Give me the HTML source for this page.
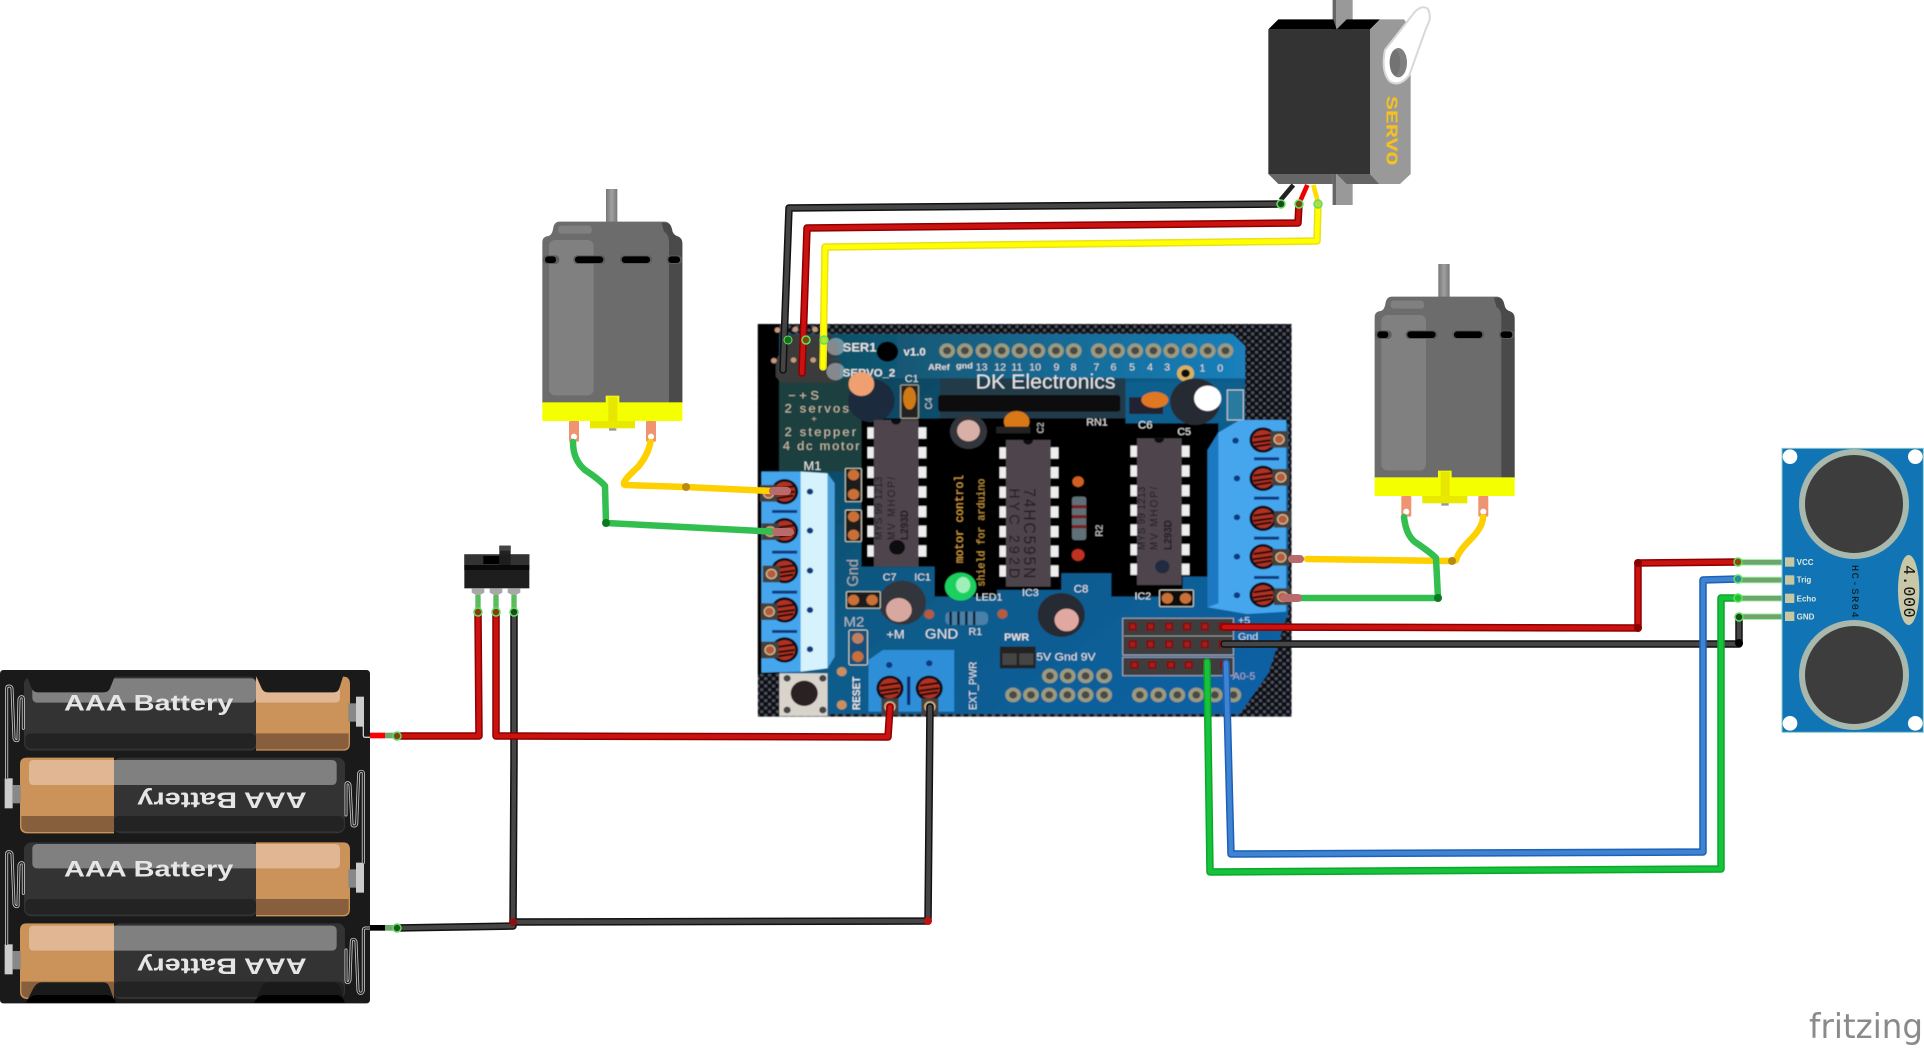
<!DOCTYPE html>
<html><head><meta charset="utf-8"><style>html,body{margin:0;padding:0;background:#fff}svg{display:block}text{font-family:"Liberation Sans",sans-serif}</style></head><body>
<svg xmlns="http://www.w3.org/2000/svg" width="1924" height="1050" viewBox="0 0 1924 1050">
<defs>
<pattern id="dots" width="22" height="22" patternUnits="userSpaceOnUse"><rect width="22" height="22" fill="#0c0c10"/><circle cx="6" cy="6" r="5" fill="#4a5060"/><circle cx="17" cy="17" r="5" fill="#4a5060"/></pattern>
<pattern id="pin" width="40" height="59" patternUnits="userSpaceOnUse"><rect y="12" width="40" height="34" fill="#eee"/></pattern>
<linearGradient id="pcb" x1="0" y1="0" x2="1" y2="1"><stop offset="0" stop-color="#123c48"/><stop offset=".45" stop-color="#0e5a86"/><stop offset="1" stop-color="#0d62a8"/></linearGradient>
<linearGradient id="top" x1="0" y1="0" x2="1" y2="0"><stop offset="0" stop-color="#0f4a5c"/><stop offset="1" stop-color="#1a80bb"/></linearGradient>
<linearGradient id="shaft" x1="0" y1="0" x2="1" y2="0"><stop offset="0" stop-color="#777"/><stop offset=".5" stop-color="#a0a0a0"/><stop offset="1" stop-color="#777"/></linearGradient>
<filter id="bl" x="-2%" y="-2%" width="104%" height="104%"><feGaussianBlur stdDeviation="1.4"/></filter>
<g id="ic"><rect x="-18" y="0" width="18" height="420" fill="url(#pin)"/><rect x="125" y="0" width="22" height="420" fill="url(#pin)"/><rect x="0" y="-10" width="125" height="440" fill="#4d444c"/><path d="M48-10a14 14 0 0 0 28 0z" fill="#111"/></g>
<g id="screw"><circle r="38" fill="#0a0a18"/><circle r="30" fill="#b03020"/><path d="M-26-8 26-16M-28 8 28 0M-24 20 24 12" stroke="#1a0a0a" stroke-width="6"/></g>
<g id="pd"><rect x="-24" y="-25" width="48" height="50" fill="#45413d"/><circle r="14" fill="#b85a3c" stroke="#c9b98f" stroke-width="4"/></g>
<g id="hp"><circle r="22" fill="#9a9a80"/><circle r="11" fill="#4a4a44"/></g>
<g id="hs"><rect x="-12" y="-12" width="24" height="24" fill="#7a1010"/><rect x="-7" y="-7" width="14" height="14" fill="#aa1a1a"/></g>
<g id="motor">
<rect x="258" y="27" width="34" height="100" fill="url(#shaft)"/>
<path d="M67 670V187Q67 170 85 168Q97 165 100 142Q104 125 118 125H435Q452 127 456 148Q458 165 475 170Q487 175 487 190V670Z" fill="#6c6c6c"/>
<path d="M425 128H437Q452 130 456 148Q458 165 475 170Q487 175 487 190V670H447V185Q447 165 432 155Z" fill="#4a4a4a"/>
<rect x="87" y="180" width="134" height="466" rx="18" fill="#808080"/>
<rect x="115" y="137" width="100" height="24" rx="9" fill="#808080"/>
<g fill="#5c5c5c"><rect x="68" y="226" width="50" height="26" rx="12"/><rect x="160" y="226" width="96" height="26" rx="12"/><rect x="300" y="226" width="96" height="26" rx="12"/><rect x="440" y="226" width="47" height="26" rx="12"/></g>
<g fill="#000"><rect x="75" y="229" width="33" height="20" rx="9"/><rect x="165" y="229" width="85" height="20" rx="10"/><rect x="305" y="229" width="85" height="20" rx="10"/><rect x="445" y="229" width="35" height="20" rx="9"/></g>
<rect x="147" y="723" width="30" height="62" rx="3" fill="#ee9470"/><circle cx="162" cy="770" r="9" fill="#fff"/>
<rect x="378" y="723" width="30" height="62" rx="3" fill="#ee9470"/><circle cx="393" cy="770" r="9" fill="#fff"/>
<rect x="267" y="742" width="22" height="10" fill="#999"/>
<rect x="210" y="723" width="135" height="22" fill="#e8e800"/>
<rect x="67" y="667" width="420" height="56" fill="#f4ff00"/>
<rect x="257" y="647" width="41" height="22" fill="#f4ff00"/>
<rect x="265" y="650" width="27" height="73" fill="#e6e600"/>
</g>
</defs>

<!-- SHIELD -->
<g transform="translate(740,310) scale(.357,.3333)" filter="url(#bl)">
<rect x="50" y="42" width="1495" height="1178" fill="url(#dots)"/>
<rect x="50" y="42" width="60" height="1050" fill="#040404"/>
<path d="M110 72H1380L1415 108V340H1535V910L1480 1090L1400 1212H250L110 1090Z" fill="url(#pcb)"/>
<path d="M110 72H1380L1415 108V205H110Z" fill="url(#top)"/>
<rect x="110" y="205" width="250" height="280" fill="#1d4040"/>
<rect x="560" y="205" width="520" height="130" fill="#203a48"/>
<path d="M340 325H1340V800H1240V860H1040V790H900V840H720V860H545V770H340Z" fill="#040404"/>
<rect x="1080" y="215" width="330" height="125" fill="#0f5f8d"/>
<!-- top headers -->
<g><use href="#hp" x="580" y="122"/><use href="#hp" x="630" y="122"/><use href="#hp" x="682" y="122"/><use href="#hp" x="733" y="122"/><use href="#hp" x="783" y="122"/><use href="#hp" x="833" y="122"/><use href="#hp" x="885" y="122"/><use href="#hp" x="935" y="122"/><use href="#hp" x="1005" y="122"/><use href="#hp" x="1056" y="122"/><use href="#hp" x="1107" y="122"/><use href="#hp" x="1158" y="122"/><use href="#hp" x="1208" y="122"/><use href="#hp" x="1259" y="122"/><use href="#hp" x="1310" y="122"/><use href="#hp" x="1360" y="122"/></g>
<g><use href="#hp" x="765" y="1155"/><use href="#hp" x="815" y="1155"/><use href="#hp" x="866" y="1155"/><use href="#hp" x="917" y="1155"/><use href="#hp" x="968" y="1155"/><use href="#hp" x="1020" y="1155"/><use href="#hp" x="1120" y="1155"/><use href="#hp" x="1172" y="1155"/><use href="#hp" x="1225" y="1155"/><use href="#hp" x="1278" y="1155"/><use href="#hp" x="1330" y="1155"/><use href="#hp" x="1382" y="1155"/></g>
<g><use href="#hp" x="868" y="1098"/><use href="#hp" x="918" y="1098"/><use href="#hp" x="968" y="1098"/><use href="#hp" x="1020" y="1098"/></g>
<circle cx="413" cy="125" r="30" fill="#050505"/>
<circle cx="1248" cy="190" r="24" fill="#d8b060"/><circle cx="1248" cy="190" r="12" fill="#111"/>
<!-- labels -->
<g fill="#e4e4e4" font-size="36" font-weight="bold">
<text x="288" y="125">SER1</text><text x="458" y="136" font-size="32">v1.0</text><text x="288" y="200" font-size="32">SERVO_2</text>
<text x="660" y="235" font-size="60" textLength="392" lengthAdjust="spacingAndGlyphs" font-weight="normal">DK Electronics</text>
<g font-size="30" font-weight="normal" fill="#ddd"><text x="527" y="180" font-weight="bold" font-size="26">ARef</text><text x="605" y="176" font-weight="bold" font-size="26">gnd</text><text x="660" y="182">13</text><text x="712" y="182">12</text><text x="760" y="182">11</text><text x="810" y="182">10</text><text x="878" y="182">9</text><text x="926" y="182">8</text><text x="990" y="182">7</text><text x="1038" y="182">6</text><text x="1090" y="182">5</text><text x="1140" y="182">4</text><text x="1188" y="182">3</text><text x="1287" y="184">1</text><text x="1337" y="184">0</text></g>
<g font-weight="normal" font-size="36" fill="#cdbfa8" style="font-family:'Liberation Mono',monospace"><text x="135" y="268">− + S</text><text x="125" y="308" textLength="180">2 servos</text><text x="200" y="335" font-size="26">+</text><text x="125" y="378" textLength="200">2 stepper</text><text x="120" y="420" textLength="215">4 dc motor</text></g>
<g font-weight="normal"><text x="178" y="480">M1</text><text x="290" y="950" font-size="42" fill="#b0b8c0">M2</text><text x="400" y="812" font-size="30">C7</text><text x="488" y="812" font-size="30">IC1</text><text x="660" y="872" font-size="30">LED1</text><text x="410" y="985">+M</text><text x="518" y="985" font-size="42">GND</text><text x="640" y="975" font-size="30">R1</text><text x="790" y="858" font-size="30">IC3</text><text x="935" y="848" font-size="32">C8</text><text x="1105" y="868" font-size="30">IC2</text><text x="1115" y="356" font-size="32">C6</text><text x="1225" y="375" font-size="30">C5</text><text x="970" y="346" font-size="30">RN1</text><text x="462" y="216" font-size="30">C1</text><text x="740" y="992" font-size="30" font-weight="bold">PWR</text><text x="830" y="1052" font-size="34">5V Gnd 9V</text><text x="1380" y="1108" font-size="30" fill="#aac">A0-5</text><text x="1395" y="942" font-size="30" fill="#cde">+5</text><text x="1395" y="990" font-size="30" fill="#cde">Gnd</text></g>
<text transform="translate(330,830) rotate(-90)" font-size="44" font-weight="normal" fill="#aaa">Gnd</text>
<text transform="translate(336,1200) rotate(-90)" font-size="30">RESET</text>
<text transform="translate(662,1200) rotate(-90)" font-size="30" font-weight="normal">EXT_PWR</text>
<text transform="translate(624,760) rotate(-90)" font-size="34" fill="#d8a040" font-weight="normal" style="font-family:'Liberation Mono',monospace">motor control</text>
<text transform="translate(685,830) rotate(-90)" font-size="30" fill="#c89840" font-weight="normal" style="font-family:'Liberation Mono',monospace">shield for arduino</text>
<text transform="translate(1015,680) rotate(-90)" font-size="28" fill="#ccc" font-weight="normal">R2</text>
<text transform="translate(850,370) rotate(-90)" font-size="26" fill="#ccc" font-weight="normal">C2</text>
<text transform="translate(538,298) rotate(-90)" font-size="28" fill="#ccc" font-weight="normal">C4</text>
</g>
<!-- parts -->
<rect x="555" y="255" width="510" height="50" rx="8" fill="#111"/>
<rect x="450" y="225" width="50" height="100" rx="4" fill="#222" stroke="#998" stroke-width="4"/><ellipse cx="475" cy="265" rx="18" ry="34" fill="#d07a18"/>
<circle cx="368" cy="272" r="65" fill="#1a2a3c"/><circle cx="340" cy="222" r="36" fill="#f0a070"/>
<circle cx="640" cy="365" r="52" fill="#30343a"/><circle cx="640" cy="362" r="32" fill="#d8b0a8"/>
<ellipse cx="775" cy="335" rx="36" ry="32" fill="#d87818"/><rect x="718" y="350" width="95" height="20" fill="#222"/>
<rect x="1090" y="262" width="95" height="50" fill="#223"/><ellipse cx="1162" cy="270" rx="38" ry="24" fill="#e07820"/>
<circle cx="1275" cy="275" r="70" fill="#282c30"/><circle cx="1310" cy="265" r="38" fill="#fff"/>
<rect x="1365" y="240" width="45" height="90" fill="#2a7aa0" stroke="#ccc" stroke-width="3"/>
<use href="#ic" x="375" y="340"/><use href="#ic" x="745" y="400"/><use href="#ic" x="1112" y="395"/>
<g fill="#1e1a20" style="font-family:'Liberation Mono',monospace" font-size="30">
<text transform="translate(398,690) rotate(-90) " textLength="190">MYS 99 1213</text><text transform="translate(434,690) rotate(-90)" textLength="190">MV MHOP/</text><text transform="translate(470,690) rotate(-90)" font-weight="bold">L293D</text>
<text transform="translate(1135,720) rotate(-90)" textLength="190">MYS 99 1213</text><text transform="translate(1170,720) rotate(-90)" textLength="190">MV MHOP/</text><text transform="translate(1208,720) rotate(-90)" font-weight="bold">L293D</text>
<text transform="translate(795,535) rotate(90)" font-size="46" textLength="270">74HC595N</text><text transform="translate(755,535) rotate(90)" font-size="42" textLength="270">HYC 292D</text>
</g>
<circle cx="440" cy="712" r="22" fill="#0a0a0a"/><circle cx="1183" cy="770" r="20" fill="#222a40"/>
<circle cx="455" cy="878" r="66" fill="#30343a"/><circle cx="445" cy="900" r="36" fill="#d8a8a0"/>
<circle cx="900" cy="915" r="66" fill="#282c32"/><circle cx="915" cy="930" r="34" fill="#e0a8a0"/>
<ellipse cx="618" cy="830" rx="44" ry="42" fill="#1fd060"/><ellipse cx="625" cy="825" rx="20" ry="24" fill="#9ff0b8"/>
<rect x="575" y="905" width="120" height="40" rx="14" fill="#4a80a8"/><path d="M590 905v40M612 905v40M634 905v40M656 905v40" stroke="#123" stroke-width="7"/>
<circle cx="530" cy="913" r="14" fill="#b85a3c"/><circle cx="735" cy="912" r="14" fill="#b85a3c"/>
<rect x="930" y="560" width="40" height="130" rx="8" fill="#607078"/><path d="M930 590h40M930 620h40M930 650h40" stroke="#722" stroke-width="10"/><circle cx="947" cy="515" r="16" fill="#d06020"/><circle cx="947" cy="735" r="18" fill="#c03020"/>
<rect x="295" y="475" width="45" height="100" rx="4" fill="#1a1a1a" stroke="#ccb" stroke-width="3"/><circle cx="318" cy="495" r="16" fill="#c87038"/><circle cx="318" cy="553" r="16" fill="#c87038"/>
<rect x="295" y="600" width="45" height="95" rx="4" fill="#1a1a1a" stroke="#ccb" stroke-width="3"/><circle cx="318" cy="620" r="16" fill="#c87038"/><circle cx="318" cy="675" r="16" fill="#c87038"/>
<rect x="298" y="845" width="95" height="50" rx="4" fill="#1a1a1a" stroke="#ccb" stroke-width="3"/><circle cx="318" cy="870" r="16" fill="#c87038"/><circle cx="370" cy="870" r="16" fill="#c87038"/>
<rect x="305" y="960" width="52" height="105" rx="5" fill="#12507a" stroke="#ccb" stroke-width="3"/><circle cx="330" cy="985" r="16" fill="#c08060"/><circle cx="330" cy="1040" r="16" fill="#c87038"/>
<rect x="1175" y="840" width="95" height="50" rx="4" fill="#111" stroke="#ccb" stroke-width="3"/><circle cx="1197" cy="865" r="16" fill="#c87038"/><circle cx="1248" cy="865" r="16" fill="#c87038"/>
<rect x="110" y="1090" width="135" height="128" fill="#d8d4cc"/><circle cx="180" cy="1150" r="38" fill="#2a2420"/><circle cx="132" cy="1105" r="10" fill="#444"/><circle cx="232" cy="1105" r="10" fill="#444"/><circle cx="132" cy="1200" r="10" fill="#444"/><circle cx="232" cy="1200" r="10" fill="#444"/>
<circle cx="285" cy="1085" r="14" fill="#c89060"/><circle cx="285" cy="1185" r="14" fill="#c89060"/>
<rect x="728" y="1010" width="100" height="65" fill="#222"/><rect x="735" y="1030" width="40" height="35" fill="#444"/><rect x="782" y="1030" width="40" height="35" fill="#444"/>
<!-- M1 terminal -->
<path d="M60 485H170L245 490L265 520V1040L245 1075L170 1085L60 1088Z" fill="#45a6ee"/>
<path d="M170 485L245 490V1075L170 1085Z" fill="#d6f2fc"/><path d="M245 490 265 520V1040L245 1075Z" fill="#4aa0dc"/>
<g fill="#0a3a80"><circle cx="196" cy="545" r="9"/><circle cx="196" cy="662" r="9"/><circle cx="196" cy="782" r="9"/><circle cx="196" cy="900" r="9"/><circle cx="196" cy="1018" r="9"/><rect x="90" y="600" width="70" height="9"/><rect x="90" y="722" width="70" height="9"/><rect x="90" y="842" width="70" height="9"/><rect x="90" y="960" width="70" height="9"/></g>
<use href="#screw" x="125" y="545"/><use href="#screw" x="125" y="662"/><use href="#screw" x="125" y="782"/><use href="#screw" x="125" y="900"/><use href="#screw" x="125" y="1020"/>
<use href="#pd" x="80" y="550"/><use href="#pd" x="85" y="665"/><use href="#pd" x="88" y="792"/><use href="#pd" x="82" y="905"/><use href="#pd" x="84" y="1020"/>
<!-- M3 terminal -->
<path d="M1340 368 1400 330H1530V905L1420 912 1310 892V420Z" fill="#45a6ee"/><path d="M1340 368V880L1310 892V420Z" fill="#1a78c0"/>
<g fill="#0a3a80"><circle cx="1388" cy="392" r="9"/><circle cx="1392" cy="505" r="9"/><circle cx="1392" cy="622" r="9"/><circle cx="1392" cy="740" r="9"/><circle cx="1392" cy="856" r="9"/><rect x="1440" y="442" width="70" height="9"/><rect x="1440" y="560" width="70" height="9"/><rect x="1440" y="680" width="70" height="9"/><rect x="1440" y="798" width="70" height="9"/></g>
<use href="#screw" x="1465" y="390"/><use href="#screw" x="1465" y="505"/><use href="#screw" x="1465" y="625"/><use href="#screw" x="1465" y="740"/><use href="#screw" x="1465" y="855"/>
<use href="#pd" x="1510" y="388"/><use href="#pd" x="1515" y="502"/><use href="#pd" x="1520" y="628"/><use href="#pd" x="1515" y="742"/><use href="#pd" x="1520" y="860"/>
<!-- bottom terminal -->
<path d="M360 1050 400 1020H580L600 1020V1205H360Z" fill="#2f8fd8"/>
<circle cx="418" cy="1065" r="9" fill="#0a3a80"/><circle cx="530" cy="1060" r="9" fill="#0a3a80"/>
<rect x="468" y="1100" width="9" height="85" fill="#0a2a70"/>
<use href="#screw" x="420" y="1135"/><use href="#screw" x="530" y="1135"/>
<use href="#pd" x="420" y="1190"/><use href="#pd" x="532" y="1190"/>
<!-- right headers -->
<rect x="1072" y="925" width="310" height="110" fill="#3e3e3e" stroke="#aab" stroke-width="3"/><rect x="1072" y="1042" width="310" height="55" fill="#3e3e3e" stroke="#aab" stroke-width="3"/>
<path d="M1075 978H1380" stroke="#999" stroke-width="3"/>
<g><use href="#hs" x="1100" y="950"/><use href="#hs" x="1150" y="950"/><use href="#hs" x="1202" y="950"/><use href="#hs" x="1252" y="950"/><use href="#hs" x="1302" y="950"/><use href="#hs" x="1352" y="950"/><use href="#hs" x="1100" y="1003"/><use href="#hs" x="1150" y="1003"/><use href="#hs" x="1202" y="1003"/><use href="#hs" x="1252" y="1003"/><use href="#hs" x="1302" y="1003"/><use href="#hs" x="1352" y="1003"/><use href="#hs" x="1105" y="1065"/><use href="#hs" x="1155" y="1065"/><use href="#hs" x="1207" y="1065"/><use href="#hs" x="1257" y="1065"/><use href="#hs" x="1307" y="1065"/><use href="#hs" x="1357" y="1065"/></g>
<!-- servo connectors -->
<path d="M100 150 145 75H250L275 100V140L250 150H280V205L260 218H115L100 200Z" fill="#3a3a3a"/>
<circle cx="268" cy="110" r="26" fill="#d0d8e0" opacity=".5"/><circle cx="268" cy="185" r="26" fill="#d0d8e0" opacity=".5"/>
<g fill="#c89880"><circle cx="95" cy="152" r="8"/><circle cx="150" cy="150" r="8"/><circle cx="205" cy="150" r="8"/><circle cx="105" cy="60" r="8"/><circle cx="155" cy="58" r="8"/><circle cx="210" cy="58" r="8"/></g>
</g>

<!-- MOTORS -->
<use href="#motor" transform="translate(520,180) scale(.33333)"/>
<use href="#motor" transform="translate(1352.3,255) scale(.33333)"/>

<!-- SERVO -->
<g transform="translate(1250,0) scale(.33333)">
<path d="M92 600 130 555" stroke="#222" stroke-width="14" fill="none"/><path d="M152 600 172 555" stroke="#e00" stroke-width="14" fill="none"/><path d="M202 600 190 555" stroke="#fd0" stroke-width="14" fill="none"/>
<rect x="248" y="0" width="60" height="615" fill="#999"/><rect x="248" y="0" width="10" height="615" fill="#666"/>
<path d="M55 88 85 58H250L260 88ZM260 88 290 58H390L360 88Z" fill="#000"/>
<path d="M360 88 390 58H462L482 85V522L450 552H388L360 522Z" fill="#999"/>
<path d="M55 522H248V552H85ZM260 522H360L388 552H290Z" fill="#666"/>
<rect x="55" y="88" width="305" height="434" fill="#333"/>
<path d="M405 150 495 35Q515 15 532 25Q548 50 530 80L478 225Q450 262 420 245Q392 215 405 150Z" fill="#fff" stroke="#d8d8d8" stroke-width="6"/>
<ellipse cx="445" cy="188" rx="26" ry="44" fill="#808080"/><ellipse cx="435" cy="188" rx="16" ry="38" fill="#666" opacity=".5"/>
<text transform="translate(410,288) rotate(90)" font-size="50" font-weight="bold" fill="#f5c020" textLength="208" lengthAdjust="spacingAndGlyphs" style="font-family:'Liberation Mono',monospace">SERVO</text>
</g>

<!-- SWITCH -->
<g transform="translate(440,530) scale(.33333)">
<rect x="178" y="47" width="34" height="56" fill="#222"/><rect x="178" y="47" width="34" height="15" fill="#444"/>
<rect x="73" y="73" width="195" height="102" fill="#1e1e1e"/><rect x="73" y="73" width="195" height="32" fill="#333"/><rect x="73" y="105" width="195" height="15" fill="#0a0a0a"/>
<rect x="130" y="78" width="48" height="24" fill="#000"/><rect x="178" y="73" width="34" height="32" fill="#1e1e1e"/>
<g fill="#a8a8a8"><path d="M95 175H133V188L120 195H108L95 188Z"/><path d="M149 175H187V188L174 195H162L149 188Z"/><path d="M203 175H241V188L228 195H216L203 188Z"/></g>
<g fill="#5cbc5c"><rect x="106" y="195" width="16" height="50"/><rect x="160" y="195" width="16" height="50"/><rect x="214" y="195" width="16" height="50"/></g>
</g>

<!-- HC-SR04 -->
<g transform="translate(1760,430) scale(.33333)">
<g stroke="#a6f0a6" stroke-width="20"><path d="M-66 397H75M-66 450H75M-66 505H75M-66 560H75"/></g>
<g stroke="#6ea56e" stroke-width="14"><path d="M-66 397H75M-66 450H75M-66 505H75M-66 560H75"/></g>
<rect x="66" y="55" width="424" height="852" fill="#1174b5" stroke="#8cc" stroke-width="3"/>
<g fill="#fff"><circle cx="90" cy="80" r="22"/><circle cx="466" cy="80" r="22"/><circle cx="90" cy="880" r="22"/><circle cx="466" cy="880" r="22"/></g>
<circle cx="282" cy="222" r="156" fill="#3d3d3d" stroke="#a8b8ac" stroke-width="18"/>
<circle cx="282" cy="735" r="156" fill="#3d3d3d" stroke="#a8b8ac" stroke-width="18"/>
<ellipse cx="446" cy="480" rx="32" ry="105" fill="#c8c8a8"/>
<g fill="#c8c8a0"><rect x="75" y="382" width="28" height="28"/><rect x="75" y="436" width="28" height="28"/><rect x="75" y="491" width="28" height="28"/><rect x="75" y="545" width="28" height="28"/></g>
<g fill="#dfe8e0" font-size="24" font-weight="bold" style="font-family:'Liberation Mono',monospace"><text x="110" y="405">VCC</text><text x="110" y="458">Trig</text><text x="110" y="514">Echo</text><text x="110" y="568">GND</text></g>
<text transform="translate(276,405) rotate(90)" font-size="30" fill="#111" textLength="158" style="font-family:'Liberation Mono',monospace">HC-SR04</text>
<text transform="translate(432,405) rotate(90)" font-size="50" fill="#111" textLength="158" style="font-family:'Liberation Mono',monospace">4.000</text>
</g>

<!-- BATTERY -->
<g transform="translate(0,660) scale(.33333)">
<rect x="0" y="30" width="1110" height="1000" rx="10" fill="#1a1a1a"/>
<!-- 1 -->
<rect x="72" y="50" width="700" height="222" rx="22" fill="#333"/><path d="M768 50H1030Q1050 50 1050 72V250Q1050 272 1030 272H768Z" fill="#cb9259"/>
<rect x="76" y="220" width="692" height="46" rx="16" fill="#232323"/><path d="M768 220H1046V250Q1046 268 1028 268H768Z" fill="#875f3c"/>
<rect x="97" y="55" width="671" height="73" rx="14" fill="#808080"/><path d="M768 55H1005Q1020 55 1020 70V114Q1020 128 1005 128H768Z" fill="#e0b693"/>
<path d="M78 40H348L330 85Q325 97 310 97H115Q100 97 95 85ZM765 40H1032L1018 85Q1014 97 1000 97H805Q790 97 785 85Z" fill="#1a1a1a"/>
<!-- 2 -->
<rect x="340" y="293" width="695" height="227" rx="22" fill="#333"/><path d="M342 293H80Q60 293 60 313V498Q60 520 82 520H342Z" fill="#cb9259"/>
<rect x="340" y="468" width="692" height="46" rx="16" fill="#232323"/><path d="M342 468H64V495Q64 516 84 516H342Z" fill="#875f3c"/>
<path d="M342 300H995Q1010 300 1010 315V360Q1010 375 995 375H342Z" fill="#808080"/><path d="M342 300H100Q87 300 87 315V360Q87 375 100 375H342Z" fill="#e0b693"/>
<!-- 3 -->
<rect x="72" y="547" width="700" height="222" rx="22" fill="#333"/><path d="M768 547H1030Q1050 547 1050 569V747Q1050 769 1030 769H768Z" fill="#cb9259"/>
<rect x="76" y="717" width="692" height="46" rx="16" fill="#232323"/><path d="M768 717H1046V747Q1046 765 1028 765H768Z" fill="#875f3c"/>
<path d="M768 552V625H112Q97 625 97 610V567Q97 552 112 552Z" fill="#808080"/><path d="M768 552H1005Q1020 552 1020 567V611Q1020 625 1005 625H768Z" fill="#e0b693"/>
<!-- 4 -->
<rect x="340" y="790" width="695" height="227" rx="22" fill="#333"/><path d="M342 790H80Q60 790 60 810V995Q60 1017 82 1017H342Z" fill="#cb9259"/>
<rect x="340" y="965" width="692" height="46" rx="16" fill="#232323"/><path d="M342 965H64V992Q64 1013 84 1013H342Z" fill="#875f3c"/>
<path d="M342 797H995Q1010 797 1010 812V857Q1010 872 995 872H342Z" fill="#808080"/><path d="M342 797H100Q87 797 87 812V857Q87 872 100 872H342Z" fill="#e0b693"/>
<path d="M78 1028 100 985Q110 967 125 967H310Q325 967 330 985L345 1028ZM765 1028 782 985Q790 967 805 967H1000Q1015 967 1022 985L1035 1028Z" fill="#1a1a1a"/>
<path d="M78 1028Q90 1005 110 1005H320Q340 1005 348 1028ZM762 1028Q775 1005 795 1005H1010Q1025 1005 1035 1028Z" fill="#000"/>
<!-- text -->
<g fill="#e6e6e6" font-size="66" font-weight="bold">
<text x="192" y="152" textLength="508" lengthAdjust="spacingAndGlyphs">AAA Battery</text>
<text x="192" y="649" textLength="508" lengthAdjust="spacingAndGlyphs">AAA Battery</text>
<text transform="translate(920,398) rotate(180)" textLength="508" lengthAdjust="spacingAndGlyphs">AAA Battery</text>
<text transform="translate(920,895) rotate(180)" textLength="508" lengthAdjust="spacingAndGlyphs">AAA Battery</text>
</g>
<!-- contacts -->
<g fill="#ccc"><rect x="1068" y="110" width="24" height="90"/><rect x="14" y="355" width="24" height="90"/><rect x="1068" y="608" width="24" height="90"/><rect x="14" y="853" width="24" height="90"/></g>
<g fill="#888"><rect x="1045" y="130" width="23" height="55"/><rect x="38" y="375" width="24" height="55"/><rect x="1045" y="628" width="23" height="55"/><rect x="38" y="873" width="24" height="55"/></g>
<g fill="none" stroke-linejoin="round" stroke-linecap="round">
<g stroke="#c8c8c8" stroke-width="9">
<path d="M20 355V85Q20 78 27 78T36 85L42 235Q44 242 50 242T54 235L57 118Q60 110 65 110T70 118V205"/>
<path d="M1090 608V340Q1090 334 1084 334T1076 340L1070 492Q1068 498 1062 498T1056 492L1050 375Q1048 368 1043 368T1038 375V465"/>
<path d="M20 853V582Q20 575 27 575T36 582L42 732Q44 740 50 740T54 732L57 615Q60 608 65 608T70 615V700"/>
<path d="M1110 804H1097Q1090 804 1090 812V992Q1088 1000 1082 1000T1074 992L1068 845Q1066 838 1060 838T1054 845L1050 960Q1048 968 1043 968T1038 960V870"/>
</g>
<g stroke="#1f1f1f" stroke-width="4">
<path d="M20 355V85Q20 78 27 78T36 85L42 235Q44 242 50 242T54 235L57 118Q60 110 65 110T70 118V205"/>
<path d="M1090 608V340Q1090 334 1084 334T1076 340L1070 492Q1068 498 1062 498T1056 492L1050 375Q1048 368 1043 368T1038 375V465"/>
<path d="M20 853V582Q20 575 27 575T36 582L42 732Q44 740 50 740T54 732L57 615Q60 608 65 608T70 615V700"/>
<path d="M1110 804H1097Q1090 804 1090 812V992Q1088 1000 1082 1000T1074 992L1068 845Q1066 838 1060 838T1054 845L1050 960Q1048 968 1043 968T1038 960V870"/>
</g>
<path d="M1090 200V226Q1090 232 1096 232H1110" stroke="#ccc" stroke-width="4"/>
</g>
<!-- stubs -->
<rect x="1110" y="218" width="45" height="17" fill="#f00"/><rect x="1155" y="218" width="30" height="17" fill="#6ca96c"/>
<rect x="1110" y="795" width="45" height="17" fill="#000"/><rect x="1155" y="795" width="30" height="17" fill="#6ca96c"/>
</g>

<!-- WIRES -->
<g fill="none" stroke-linecap="round" stroke-linejoin="round">
<!-- motor wires -->
<g stroke="#ffd000" stroke-width="6.5"><path d="M650.5 442Q648 455 638 467Q620 483 625 485L686 487L772 491"/><path d="M1483 517Q1483 527 1470 540Q1458 552 1456 560Q1456 561 1449 561L1307 559"/></g>
<g stroke="#33bf50" stroke-width="6.5"><path d="M573 442Q573 460 585 470Q600 480 605 486L606 523L780 532"/><path d="M1404 517Q1406 535 1415 542Q1430 552 1436 558L1438 598H1290"/></g>
<g stroke="#b96a6a" stroke-width="8"><path d="M773 491H787M776 532H790M1300 559H1292M1298 598H1284"/></g>
<!-- black first -->
<g stroke="#111" stroke-width="7.5"><path d="M783 370 789 208 1281 204"/><path d="M514 612V760L513 922L928 921L930 707"/><path d="M397 928 513 926"/><path d="M1224 644H1739V617"/></g>
<g stroke="#454545" stroke-width="4.5"><path d="M783 370 789 208 1281 204"/><path d="M514 612V760L513 922L928 921L930 707"/><path d="M397 928 513 926"/><path d="M1224 644H1739V617"/></g>
<!-- blue -->
<path d="M1226 663 1231 854 1703 852V580L1738 579" stroke="#1f5fb5" stroke-width="7.5"/><path d="M1226 663 1231 854 1703 852V580L1738 579" stroke="#3f84d2" stroke-width="4.5"/>
<!-- green -->
<path d="M1207 662 1210 872 1721 869V598H1738" stroke="#09a82a" stroke-width="7.5"/><path d="M1207 662 1210 872 1721 869V598H1738" stroke="#18c23c" stroke-width="4.5"/>
<!-- red -->
<g stroke="#8c0000" stroke-width="7.5"><path d="M802 373 807 228 1298 223 1299 204"/><path d="M397 736H479L478 612"/><path d="M496 612V736L888 737L890 707"/><path d="M1224 627 1638 628V563L1738 562"/></g>
<g stroke="#cc1111" stroke-width="4.5"><path d="M802 373 807 228 1298 223 1299 204"/><path d="M397 736H479L478 612"/><path d="M496 612V736L888 737L890 707"/><path d="M1224 627 1638 628V563L1738 562"/></g>
<!-- yellow servo -->
<path d="M823 367 825 247 1317 241 1318 204" stroke="#e8e020" stroke-width="7.5"/><path d="M823 367 825 247 1317 241 1318 204" stroke="#ffff00" stroke-width="4.5"/>
</g>
<!-- dots -->
<g stroke="#5fe05f" stroke-width="1.5">
<circle cx="1281" cy="204" r="4" fill="#1c4a1c"/><circle cx="1299" cy="204" r="4" fill="#7a4a10"/><circle cx="1318" cy="204" r="4" fill="#b8d840"/>
<circle cx="788" cy="340" r="4" fill="#1c6a1c" stroke-width="1"/><circle cx="806" cy="340" r="4" fill="#7a4a10"/><circle cx="824" cy="340" r="4" fill="#b8e030"/>
<circle cx="478" cy="612" r="4" fill="#8a3a10"/><circle cx="496" cy="612" r="4" fill="#8a3a10"/><circle cx="514" cy="612" r="4" fill="#1c4a1c"/>
<circle cx="397" cy="736" r="4" fill="#7a4a10"/><circle cx="397" cy="928" r="4" fill="#1c5a1c"/>
<circle cx="1738" cy="562" r="4" fill="#8a4a10"/><circle cx="1738" cy="579" r="4" fill="#2a8a9a"/><circle cx="1738" cy="598" r="4" fill="#20c030"/><circle cx="1739" cy="617" r="4" fill="#1c4a1c"/>
</g>
<g><circle cx="513" cy="922" r="4" fill="#8c1010"/><circle cx="928" cy="921" r="4" fill="#c01010"/><circle cx="606" cy="523" r="4" fill="#0c7a20"/><circle cx="686" cy="487" r="4" fill="#b88a10"/><circle cx="1438" cy="598" r="4" fill="#0c7a20"/><circle cx="1452" cy="561" r="4" fill="#b88a10"/><circle cx="1739" cy="643" r="4" fill="#000"/><circle cx="1638" cy="628" r="4" fill="#800"/><circle cx="1638" cy="563" r="4" fill="#800"/></g>

<text x="1809" y="1038" font-size="34" fill="#8a8a8a" textLength="114" lengthAdjust="spacingAndGlyphs" style="font-family:'DejaVu Sans',sans-serif">fritzing</text>
</svg>
</body></html>
